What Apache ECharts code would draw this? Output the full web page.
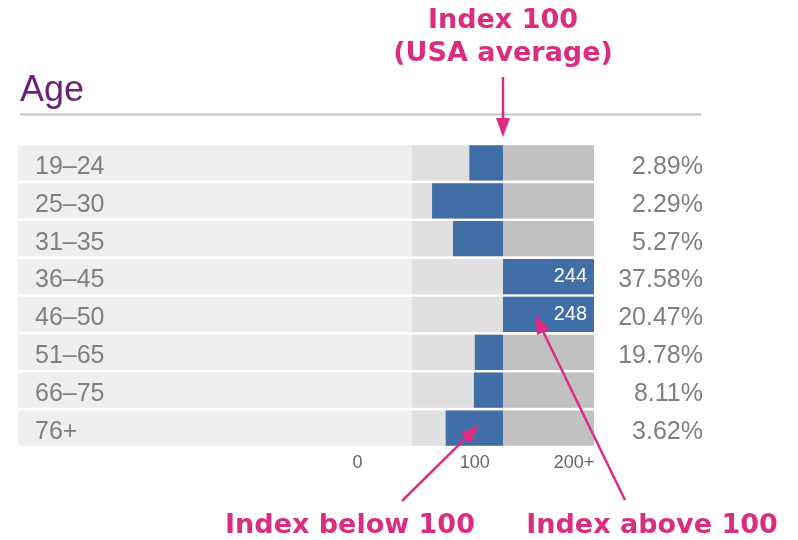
<!DOCTYPE html>
<html>
<head>
<meta charset="utf-8">
<script src="https://cdn.jsdelivr.net/npm/echarts@6/dist/echarts.min.js"></script>
<style>html,body{margin:0;padding:0;background:#fff;}#c{width:798px;height:540px;}</style>
</head>
<body>
<div id="c"></div>
<script>
const categories = ['19–24', '25–30', '31–35', '36–45', '46–50', '51–65', '66–75', '76+'];
const indexValues = [63, 22, 45, 244, 248, 69, 68, 37];
const shares = ['2.89%', '2.29%', '5.27%', '37.58%', '20.47%', '19.78%', '8.11%', '3.62%'];
const tickLabels = ['0', '100', '200+'];
const tickAt = [-60, 69, 178];
const scaleBands = [100, 100];
const AVG = 100, CAP = 200;

const baseVals = indexValues.map(v => Math.min(v, AVG));
const deltaVals = indexValues.map(v => v < AVG ? AVG - v : Math.min(v, CAP) - AVG);

const MAG = '#db2d80';
const BLUE = '#426ea7';
const GRAY = '#7f7f7f';

function arrow(x1, y1, x2, y2) {
  const dx = x2 - x1, dy = y2 - y1, L = Math.hypot(dx, dy);
  const ux = dx / L, uy = dy / L, hl = 19, hw = 7;
  const bx = x2 - ux * hl, by = y2 - uy * hl;
  return [
    { type: 'line', z: 100, shape: { x1, y1, x2: bx + ux * 2, y2: by + uy * 2 }, style: { stroke: MAG, lineWidth: 2.5 } },
    { type: 'polygon', z: 100, shape: { points: [[x2, y2], [bx - uy * hw, by + ux * hw], [bx + uy * hw, by - ux * hw]] }, style: { fill: MAG } }
  ];
}

const chart = echarts.init(document.getElementById('c'), null, { renderer: 'canvas' });
const annFont = { fontFamily: 'DejaVu Sans', fontWeight: 'bold', fontSize: 27, fill: MAG, align: 'center', verticalAlign: 'middle' };
chart.setOption({
  animation: false,
  grid: { left: 18, right: 204, top: 144, bottom: 93 },
  xAxis: {
    type: 'value', min: -433, max: 200,
    axisLine: { show: false }, axisTick: { show: false }, splitLine: { show: false },
    axisLabel: {
      customValues: tickAt,
      formatter: v => tickLabels[tickAt.indexOf(v)] ?? '',
      fontFamily: 'Liberation Sans', fontSize: 18, color: '#666', margin: 7
    }
  },
  yAxis: [
    {
      type: 'category', data: categories, inverse: true, z: 20,
      axisLine: { show: false }, axisTick: { show: false },
      axisLabel: { inside: true, margin: 17, verticalAlign: 'top', lineHeight: 8, fontFamily: 'Liberation Sans', fontSize: 25, color: GRAY }
    },
    {
      type: 'category', data: shares, inverse: true, position: 'right', z: 20,
      axisLine: { show: false }, axisTick: { show: false },
      axisLabel: { align: 'right', margin: 109, verticalAlign: 'top', lineHeight: 8, fontFamily: 'Liberation Sans', fontSize: 25, color: GRAY }
    }
  ],
  series: [
    {
      type: 'bar', stack: 'bg', data: categories.map(() => scaleBands[0]),
      barGap: '-100%', barCategoryGap: '7%',
      showBackground: true, backgroundStyle: { color: '#efefef' },
      itemStyle: { color: '#e0e0e0' }, silent: true
    },
    {
      type: 'bar', stack: 'bg', data: categories.map(() => scaleBands[1]),
      barGap: '-100%', barCategoryGap: '7%',
      itemStyle: { color: '#c1c1c1' }, silent: true
    },
    {
      type: 'bar', stack: 'idx', data: baseVals,
      barGap: '-100%', barCategoryGap: '7%',
      itemStyle: { color: 'rgba(0,0,0,0)' }, silent: true
    },
    {
      type: 'bar', stack: 'idx', data: deltaVals,
      barGap: '-100%', barCategoryGap: '7%',
      itemStyle: { color: BLUE },
      label: {
        show: true, position: 'insideRight', distance: 7,
        fontFamily: 'Liberation Sans', fontSize: 20, color: '#fff',
        formatter: p => indexValues[p.dataIndex] > CAP ? String(indexValues[p.dataIndex]) : ''
      }
    }
  ],
  graphic: [
    { type: 'text', z: 100, style: { text: 'Age', x: 20, y: 91, fontFamily: 'Liberation Sans', fontSize: 36, fill: '#6b1f7b', align: 'left', verticalAlign: 'middle' } },
    { type: 'line', z: 100, shape: { x1: 20, y1: 114.5, x2: 701, y2: 114.5 }, style: { stroke: '#c4c4c4', lineWidth: 2 } },
    { type: 'text', z: 100, style: Object.assign({ text: 'Index 100', x: 503, y: 21 }, annFont) },
    { type: 'text', z: 100, style: Object.assign({ text: '(USA average)', x: 503, y: 54 }, annFont) },
    { type: 'text', z: 100, style: Object.assign({ text: 'Index below 100', x: 350, y: 526 }, annFont) },
    { type: 'text', z: 100, style: Object.assign({ text: 'Index above 100', x: 652, y: 526 }, annFont) },
    ...arrow(503, 77, 503, 137),
    ...arrow(402, 501, 479, 425),
    ...arrow(625, 500, 535, 315)
  ]
});
</script>
</body>
</html>
